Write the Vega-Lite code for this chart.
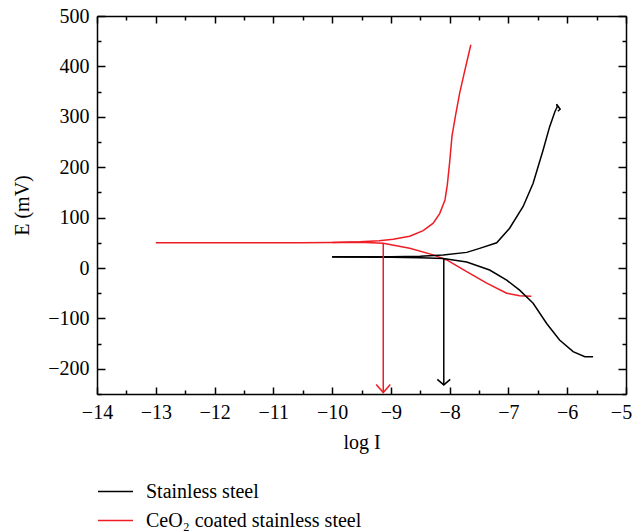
{
  "$schema": "https://vega.github.io/schema/vega-lite/v6.json",
  "width": 529,
  "height": 378,
  "autosize": {"type": "none"},
  "padding": {"left": 97, "top": 16, "right": 8, "bottom": 137},
  "background": "white",
  "config": {
    "view": {"stroke": null},
    "font": "Liberation Serif",
    "axis": {
      "grid": false,
      "domainColor": "black",
      "domainWidth": 1.5,
      "tickColor": "black",
      "tickWidth": 1.5,
      "labelFont": "Liberation Serif",
      "labelFontSize": 20,
      "labelColor": "black",
      "titleFont": "Liberation Serif",
      "titleFontSize": 20,
      "titleFontWeight": "normal",
      "titleColor": "black"
    },
    "legend": {
      "labelFont": "Liberation Serif",
      "labelFontSize": 20,
      "labelColor": "black",
      "labelLimit": 0
    }
  },
  "datasets": {
    "curves": [
      {"series": "CeO₂ coated stainless steel", "branch": "ra", "o": 1, "x": -13, "E": 50},
      {"series": "CeO₂ coated stainless steel", "branch": "ra", "o": 2, "x": -12, "E": 50},
      {"series": "CeO₂ coated stainless steel", "branch": "ra", "o": 3, "x": -11, "E": 50},
      {"series": "CeO₂ coated stainless steel", "branch": "ra", "o": 4, "x": -10.55, "E": 50},
      {"series": "CeO₂ coated stainless steel", "branch": "ra", "o": 5, "x": -10, "E": 50.5},
      {"series": "CeO₂ coated stainless steel", "branch": "ra", "o": 6, "x": -9.53, "E": 52},
      {"series": "CeO₂ coated stainless steel", "branch": "ra", "o": 7, "x": -9.2, "E": 54},
      {"series": "CeO₂ coated stainless steel", "branch": "ra", "o": 8, "x": -8.96, "E": 57},
      {"series": "CeO₂ coated stainless steel", "branch": "ra", "o": 9, "x": -8.68, "E": 63},
      {"series": "CeO₂ coated stainless steel", "branch": "ra", "o": 10, "x": -8.45, "E": 74},
      {"series": "CeO₂ coated stainless steel", "branch": "ra", "o": 11, "x": -8.28, "E": 89},
      {"series": "CeO₂ coated stainless steel", "branch": "ra", "o": 12, "x": -8.17, "E": 108},
      {"series": "CeO₂ coated stainless steel", "branch": "ra", "o": 13, "x": -8.08, "E": 135},
      {"series": "CeO₂ coated stainless steel", "branch": "ra", "o": 14, "x": -8.04, "E": 165},
      {"series": "CeO₂ coated stainless steel", "branch": "ra", "o": 15, "x": -8.0, "E": 210},
      {"series": "CeO₂ coated stainless steel", "branch": "ra", "o": 16, "x": -7.96, "E": 262},
      {"series": "CeO₂ coated stainless steel", "branch": "ra", "o": 17, "x": -7.9, "E": 303},
      {"series": "CeO₂ coated stainless steel", "branch": "ra", "o": 18, "x": -7.83, "E": 347},
      {"series": "CeO₂ coated stainless steel", "branch": "ra", "o": 19, "x": -7.74, "E": 393},
      {"series": "CeO₂ coated stainless steel", "branch": "ra", "o": 20, "x": -7.64, "E": 443},
      {"series": "CeO₂ coated stainless steel", "branch": "rc", "o": 1, "x": -10, "E": 50.5},
      {"series": "CeO₂ coated stainless steel", "branch": "rc", "o": 2, "x": -9.53, "E": 51},
      {"series": "CeO₂ coated stainless steel", "branch": "rc", "o": 3, "x": -9.13, "E": 49},
      {"series": "CeO₂ coated stainless steel", "branch": "rc", "o": 4, "x": -8.68, "E": 39},
      {"series": "CeO₂ coated stainless steel", "branch": "rc", "o": 5, "x": -8.28, "E": 26},
      {"series": "CeO₂ coated stainless steel", "branch": "rc", "o": 6, "x": -8.05, "E": 16},
      {"series": "CeO₂ coated stainless steel", "branch": "rc", "o": 7, "x": -7.71, "E": -7},
      {"series": "CeO₂ coated stainless steel", "branch": "rc", "o": 8, "x": -7.37, "E": -30},
      {"series": "CeO₂ coated stainless steel", "branch": "rc", "o": 9, "x": -7.03, "E": -50},
      {"series": "CeO₂ coated stainless steel", "branch": "rc", "o": 10, "x": -6.81, "E": -55},
      {"series": "CeO₂ coated stainless steel", "branch": "rc", "o": 11, "x": -6.61, "E": -56},
      {"series": "Stainless steel", "branch": "ba", "o": 1, "x": -10, "E": 22.4},
      {"series": "Stainless steel", "branch": "ba", "o": 2, "x": -9, "E": 22.5},
      {"series": "Stainless steel", "branch": "ba", "o": 3, "x": -8.5, "E": 23.5},
      {"series": "Stainless steel", "branch": "ba", "o": 4, "x": -8.11, "E": 26},
      {"series": "Stainless steel", "branch": "ba", "o": 5, "x": -7.71, "E": 31},
      {"series": "Stainless steel", "branch": "ba", "o": 6, "x": -7.49, "E": 39},
      {"series": "Stainless steel", "branch": "ba", "o": 7, "x": -7.2, "E": 50},
      {"series": "Stainless steel", "branch": "ba", "o": 8, "x": -6.98, "E": 79},
      {"series": "Stainless steel", "branch": "ba", "o": 9, "x": -6.75, "E": 122},
      {"series": "Stainless steel", "branch": "ba", "o": 10, "x": -6.58, "E": 168},
      {"series": "Stainless steel", "branch": "ba", "o": 11, "x": -6.41, "E": 234},
      {"series": "Stainless steel", "branch": "ba", "o": 12, "x": -6.3, "E": 280},
      {"series": "Stainless steel", "branch": "ba", "o": 13, "x": -6.21, "E": 310},
      {"series": "Stainless steel", "branch": "ba", "o": 14, "x": -6.17, "E": 320},
      {"series": "Stainless steel", "branch": "ba", "o": 15, "x": -6.18, "E": 325},
      {"series": "Stainless steel", "branch": "ba", "o": 16, "x": -6.12, "E": 315},
      {"series": "Stainless steel", "branch": "ba", "o": 17, "x": -6.16, "E": 311},
      {"series": "Stainless steel", "branch": "bc", "o": 1, "x": -10, "E": 22},
      {"series": "Stainless steel", "branch": "bc", "o": 2, "x": -9, "E": 21.5},
      {"series": "Stainless steel", "branch": "bc", "o": 3, "x": -8.5, "E": 20.5},
      {"series": "Stainless steel", "branch": "bc", "o": 4, "x": -8.11, "E": 19},
      {"series": "Stainless steel", "branch": "bc", "o": 5, "x": -7.71, "E": 12},
      {"series": "Stainless steel", "branch": "bc", "o": 6, "x": -7.32, "E": -4},
      {"series": "Stainless steel", "branch": "bc", "o": 7, "x": -7.03, "E": -24},
      {"series": "Stainless steel", "branch": "bc", "o": 8, "x": -6.81, "E": -44},
      {"series": "Stainless steel", "branch": "bc", "o": 9, "x": -6.58, "E": -70},
      {"series": "Stainless steel", "branch": "bc", "o": 10, "x": -6.35, "E": -110},
      {"series": "Stainless steel", "branch": "bc", "o": 11, "x": -6.13, "E": -143},
      {"series": "Stainless steel", "branch": "bc", "o": 12, "x": -5.9, "E": -166},
      {"series": "Stainless steel", "branch": "bc", "o": 13, "x": -5.7, "E": -176},
      {"series": "Stainless steel", "branch": "bc", "o": 14, "x": -5.56, "E": -176}
    ],
    "arrows": [
      {"series": "CeO₂ coated stainless steel", "branch": "rs", "o": 1, "x": -9.13, "E": 49},
      {"series": "CeO₂ coated stainless steel", "branch": "rs", "o": 2, "x": -9.13, "E": -247},
      {"series": "CeO₂ coated stainless steel", "branch": "rh", "o": 1, "x": -9.25, "E": -231},
      {"series": "CeO₂ coated stainless steel", "branch": "rh", "o": 2, "x": -9.13, "E": -247},
      {"series": "CeO₂ coated stainless steel", "branch": "rh", "o": 3, "x": -9.01, "E": -231},
      {"series": "Stainless steel", "branch": "bs", "o": 1, "x": -8.1, "E": 19},
      {"series": "Stainless steel", "branch": "bs", "o": 2, "x": -8.1, "E": -232},
      {"series": "Stainless steel", "branch": "bh", "o": 1, "x": -8.21, "E": -221},
      {"series": "Stainless steel", "branch": "bh", "o": 2, "x": -8.1, "E": -232},
      {"series": "Stainless steel", "branch": "bh", "o": 3, "x": -7.99, "E": -221}
    ]
  },
  "layer": [
    {
      "data": {"name": "curves"},
      "mark": {"type": "line", "strokeWidth": 1.5, "clip": true},
      "encoding": {
        "x": {
          "field": "x", "type": "quantitative",
          "scale": {"domain": [-14, -5], "nice": false, "zero": false},
          "axis": {
            "orient": "bottom", "title": "log I",
            "values": [-14, -13.5, -13, -12.5, -12, -11.5, -11, -10.5, -10, -9.5, -9, -8.5, -8, -7.5, -7, -6.5, -6, -5.5, -5],
            "labelExpr": "datum.value % 1 === 0 ? replace(format(datum.value, 'd'), '-', '−') : ''",
            "tickSize": {"condition": {"test": "datum.value % 1 === 0", "value": -7}, "value": -4},
            "labelOffset": {"condition": {"test": "datum.value === -5", "value": -5}, "value": 0},
            "labelPadding": 15,
            "titlePadding": 10,
            "labelFlush": false
          }
        },
        "y": {
          "field": "E", "type": "quantitative",
          "scale": {"domain": [-250, 500], "nice": false, "zero": false},
          "axis": {
            "orient": "left", "title": "E (mV)",
            "values": [-250, -200, -150, -100, -50, 0, 50, 100, 150, 200, 250, 300, 350, 400, 450, 500],
            "labelExpr": "datum.value % 100 === 0 ? replace(format(datum.value, 'd'), '-', '−') : ''",
            "tickSize": {"condition": {"test": "datum.value % 100 === 0", "value": -8}, "value": -4},
            "labelPadding": 16,
            "titlePadding": 15,
            "labelFlush": false
          }
        },
        "color": {
          "field": "series", "type": "nominal",
          "scale": {"domain": ["Stainless steel", "CeO₂ coated stainless steel"], "range": ["#000000", "#ee1c25"]},
          "legend": {
            "title": null, "orient": "none", "legendX": 0, "legendY": 457,
            "symbolType": "stroke", "symbolSize": 1225, "symbolStrokeWidth": 1.3,
            "rowPadding": -7, "labelOffset": 12, "labelLimit": 0
          }
        },
        "detail": {"field": "branch"},
        "order": {"field": "o", "type": "quantitative"}
      }
    },
    {
      "data": {"name": "arrows"},
      "mark": {"type": "line", "strokeWidth": 1.5, "clip": true},
      "encoding": {
        "x": {
          "field": "x", "type": "quantitative",
          "axis": {
            "orient": "top", "title": null, "labels": false,
            "values": [-14, -13.5, -13, -12.5, -12, -11.5, -11, -10.5, -10, -9.5, -9, -8.5, -8, -7.5, -7, -6.5, -6, -5.5, -5],
            "tickSize": {"condition": {"test": "datum.value % 1 === 0", "value": -7}, "value": -4}
          }
        },
        "y": {
          "field": "E", "type": "quantitative",
          "axis": {
            "orient": "right", "title": null, "labels": false,
            "values": [-250, -200, -150, -100, -50, 0, 50, 100, 150, 200, 250, 300, 350, 400, 450, 500],
            "tickSize": {"condition": {"test": "datum.value % 100 === 0", "value": -8}, "value": -4}
          }
        },
        "color": {"field": "series", "type": "nominal"},
        "detail": {"field": "branch"},
        "order": {"field": "o", "type": "quantitative"}
      }
    }
  ],
  "resolve": {"axis": {"x": "independent", "y": "independent"}}
}
